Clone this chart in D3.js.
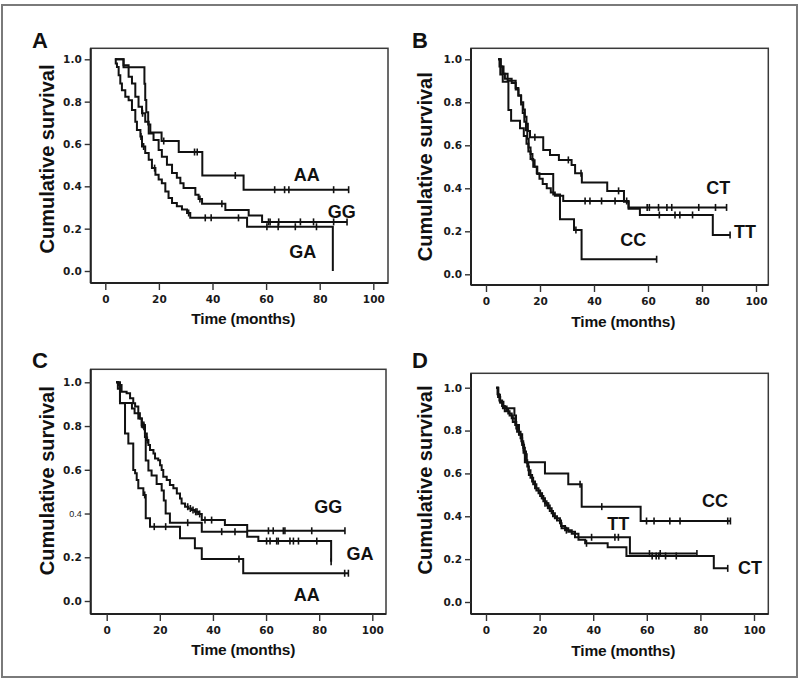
<!DOCTYPE html>
<html><head><meta charset="utf-8">
<script src="https://cdn.jsdelivr.net/npm/d3@7"></script>
<style>body{margin:0;background:#fff}</style>
</head><body><svg id="c" width="800" height="690"></svg>
<script>
// ---------- axis ticks ----------
const xTicks = [0, 20, 40, 60, 80, 100];
const yTicks = [0.0, 0.2, 0.4, 0.6, 0.8, 1.0];

// ---------- Panel A ----------
const A_labels = ["AA", "GG", "GA"];
const A_AA = [[3.7,1.0],[6.8,0.962],[14.6,0.885],[14.9,0.808],[15.3,0.75],[16,0.692],[16.8,0.654],[21,0.614],[27.4,0.562],[36.2,0.451],[51.6,0.384]];
const A_AA_end = 90.8;
const A_AA_cens = [21.8,33.3,34.3,48.5,63.2,66.9,68.5,85.2,90.8];
const A_GG = [[3.7,1.0],[6.8,0.972],[8.7,0.917],[9.95,0.886],[11.2,0.823],[12.4,0.776],[13.7,0.745],[14.9,0.705],[16.2,0.65],[18.0,0.619],[19.9,0.572],[21.1,0.54],[23.0,0.502],[24.9,0.463],[26.7,0.44],[28.0,0.415],[29.2,0.392],[33.6,0.36],[34.8,0.34],[36.1,0.318],[44.8,0.288],[53.5,0.262],[58.5,0.232]];
const A_GG_end = 90.2;
const A_GG_cens = [13.9,35.3,43.5,60.9,61.5,64.7,72.8,77.7,85.2,90.2];
const A_GA = [[3.5,1.0],[3.9,0.98],[4.35,0.964],[4.98,0.925],[5.6,0.886],[6.2,0.854],[7.46,0.823],[8.7,0.807],[9.95,0.76],[11.2,0.705],[11.8,0.666],[13.1,0.635],[13.7,0.588],[14.9,0.557],[16.2,0.525],[17.4,0.486],[18.7,0.455],[19.9,0.432],[21.1,0.415],[22.4,0.376],[23.6,0.345],[24.9,0.321],[26.7,0.306],[28.6,0.29],[30.5,0.274],[31.7,0.251],[52.9,0.209],[84.9,0.0]];
const A_GA_end = 84.9;
const A_GA_cens = [13.3,14.3,18.4,31.1,37.3,39.5,49.7,60.3,64.5,70.9,78.8];

// ---------- Panel B ----------
const B_labels = ["CT", "TT", "CC"];
const B_CT = [[4.5,1.0],[5.5,0.967],[6.5,0.933],[8,0.9],[11,0.867],[12,0.833],[13,0.8],[13.8,0.767],[14.4,0.733],[15,0.7],[15.5,0.667],[16.3,0.637],[21.2,0.578],[23.7,0.555],[27,0.532],[31.7,0.508],[33,0.47],[35.5,0.427],[44.9,0.388],[51.1,0.338],[52.8,0.311]];
const B_CT_end = 89.1;
const B_CT_cens = [18.1,30.5,35.2,49.1,59.7,60.5,63.9,67,68.8,78.8,85,89.1];
const B_TT = [[4.5,1.0],[5,0.967],[6,0.933],[7,0.91],[9.5,0.89],[11,0.86],[12,0.83],[13,0.79],[13.6,0.75],[14.2,0.71],[14.8,0.67],[15.3,0.63],[15.8,0.59],[16.5,0.56],[17.2,0.53],[18,0.5],[18.8,0.47],[19.8,0.445],[21,0.42],[22.5,0.40],[24,0.38],[25.5,0.365],[28.6,0.341],[52.8,0.305],[57,0.276],[84,0.183]];
const B_TT_end = 90.4;
const B_TT_cens = [36.7,38.5,42.8,47.8,52.1,64.2,70,71.8,76.5,90.4];
const B_CC = [[4.5,1.0],[5.3,0.929],[6.2,0.896],[8.3,0.764],[9.3,0.714],[12.6,0.679],[14,0.643],[15,0.607],[15.7,0.571],[16.5,0.536],[17.5,0.5],[19,0.467],[24.9,0.371],[27.4,0.256],[32.6,0.206],[35.4,0.07]];
const B_CC_end = 63.2;
const B_CC_cens = [33.3,63.2];

// ---------- Panel C ----------
const C_labels = ["GG", "GA", "AA"];
const C_GG = [[3.5,1.0],[4.4,0.988],[5.6,0.957],[7.5,0.95],[8.8,0.927],[10,0.904],[10.7,0.889],[11.9,0.858],[12.5,0.835],[13.2,0.805],[14.4,0.766],[15.1,0.736],[15.7,0.713],[16.3,0.69],[17.6,0.675],[18.2,0.652],[19.4,0.644],[20.1,0.621],[20.7,0.599],[21.3,0.568],[22.6,0.553],[23.8,0.53],[25.1,0.515],[26.4,0.492],[27.6,0.469],[28.2,0.446],[29.5,0.431],[30.7,0.423],[32,0.416],[33.2,0.408],[34.5,0.398],[35.8,0.37],[44.5,0.347],[52.9,0.321]];
const C_GG_end = 89.7;
const C_GG_cens = [13.5,14,15.3,30.5,31.5,32.5,33.5,34,35,37,39.5,60.9,62.7,66.5,67.1,77.2,89.7];
const C_GA = [[3.5,1.0],[4.2,0.97],[5,0.905],[9.5,0.88],[10.5,0.858],[11.9,0.835],[13.2,0.797],[14.4,0.75],[14.7,0.643],[15.7,0.597],[16.9,0.574],[18.8,0.535],[20.7,0.505],[21.5,0.46],[22.2,0.4],[23.8,0.358],[35.8,0.317],[52.9,0.294],[57.1,0.274],[84.5,0.18]];
const C_GA_end = 84.5;
const C_GA_cens = [14,30.5,43.3,48.3,60.2,61.5,64,64.6,69,70.3,72.2,79.1,84.5];
const C_AA = [[3.5,1.0],[5,0.904],[6.9,0.766],[8.15,0.72],[10,0.599],[10.7,0.584],[11.3,0.553],[11.9,0.515],[13.8,0.485],[14.7,0.378],[16.3,0.34],[27.6,0.287],[33.2,0.241],[35.8,0.192],[51.4,0.127]];
const C_AA_end = 91;
const C_AA_cens = [14.3,17.9,22.2,49.8,89.6,91];

// ---------- Panel D ----------
const D_labels = ["CC", "TT", "CT"];
const D_CC = [[3.8,1.0],[4.5,0.957],[5.3,0.93],[6.3,0.904],[10.6,0.87],[11.2,0.826],[12.3,0.783],[13.5,0.74],[14,0.696],[14.5,0.652],[22,0.6],[30.7,0.549],[35.7,0.445],[57.7,0.378]];
const D_CC_end = 91.2;
const D_CC_cens = [35.1,43.2,59.9,62.7,68.6,72.4,90.2,91.2];
const D_TT = [[3.8,1.0],[4.6,0.966],[5.2,0.935],[6.5,0.912],[7.7,0.896],[8.3,0.88],[9.6,0.857],[10.9,0.826],[11.6,0.795],[12.9,0.764],[13.5,0.733],[14.2,0.702],[14.8,0.662],[15.4,0.632],[16,0.593],[17.2,0.562],[18.3,0.531],[19.6,0.507],[20.8,0.484],[22,0.461],[23.3,0.437],[24.5,0.414],[25.7,0.391],[27.6,0.367],[28.2,0.344],[30.7,0.328],[33.2,0.302],[53.7,0.226]];
const D_TT_end = 78.7;
const D_TT_cens = [12.4,22,39.4,48.1,49.4,61,65,78.7];
const D_CT = [[3.8,1.0],[4.3,0.97],[5,0.94],[6,0.915],[7,0.89],[8.8,0.87],[10,0.84],[11.3,0.81],[12.3,0.78],[13.2,0.75],[13.9,0.72],[14.5,0.69],[15.2,0.65],[15.8,0.615],[16.6,0.58],[17.6,0.55],[18.8,0.52],[20.2,0.495],[21.4,0.47],[22.6,0.45],[23.8,0.425],[25,0.40],[26.5,0.38],[28,0.355],[29.5,0.335],[32,0.318],[34.5,0.29],[37,0.274],[45.4,0.256],[52.4,0.215],[85,0.157]];
const D_CT_end = 90.2;
const D_CT_cens = [14,15,21,23,30,37.5,62,63.5,64.5,67,71,90.2];

// ---------- layout ----------
const panels = [
  {letter:"A", lp:[32,48], box:[90.7,48.3,388,283], xr:[105.3,373.3], yr:[271,59.3], yt:[46.7,159], xt:[243.3,318.3],
   series:[[A_AA,A_AA_end,A_AA_cens],[A_GG,A_GG_end,A_GG_cens],[A_GA,A_GA_end,A_GA_cens]],
   labels:A_labels, lpos:[[306.7,175],[341.7,211.7],[302.7,251.7]]},
  {letter:"B", lp:[412,48], box:[471,48.3,768.3,285], xr:[486,756], yr:[274.3,59.3], yt:[425,166.7], xt:[623.3,321.7],
   series:[[B_CT,B_CT_end,B_CT_cens],[B_TT,B_TT_end,B_TT_cens],[B_CC,B_CC_end,B_CC_cens]],
   labels:B_labels, lpos:[[718.3,188.3],[745,232.3],[633.3,240]]},
  {letter:"C", lp:[32,368], box:[90.7,369.3,386,614], xr:[106.7,372.3], yr:[601,382.3], yt:[46.7,480.7], xt:[243.3,649.3],
   series:[[C_GG,C_GG_end,C_GG_cens],[C_GA,C_GA_end,C_GA_cens],[C_AA,C_AA_end,C_AA_cens]],
   labels:C_labels, lpos:[[328.3,506.7],[360,554.3],[306.7,595]], oddTick:0.4},
  {letter:"D", lp:[412,368], box:[471,373.3,768.3,614], xr:[486,754], yr:[602,387.7], yt:[425,480], xt:[623.3,650],
   series:[[D_CC,D_CC_end,D_CC_cens],[D_TT,D_TT_end,D_TT_cens],[D_CT,D_CT_end,D_CT_cens]],
   labels:D_labels, lpos:[[715,500.7],[618.3,524.3],[750,567.7]]}
];

const svg = d3.select("#c");
svg.append("rect").attr("width",800).attr("height",690).attr("fill","#fff");
svg.append("rect").attr("x",2).attr("y",5).attr("width",795).attr("height",672)
   .attr("fill","none").attr("stroke","#7a7a7a").attr("stroke-width",2);

const survAt = (steps, t) => { let s = steps[0][1]; for (const p of steps) if (p[0] <= t) s = p[1]; return s; };

panels.forEach(p => {
  const g = svg.append("g");
  const x = d3.scaleLinear().domain([0,100]).range(p.xr);
  const y = d3.scaleLinear().domain([0,1]).range(p.yr);
  const [bx0,by0,bx1,by1] = p.box;

  // box
  g.append("rect").attr("x",bx0).attr("y",by0).attr("width",bx1-bx0).attr("height",by1-by0)
    .attr("fill","none").attr("stroke","#3a3a3a").attr("stroke-width",1.5);
  g.append("line").attr("x1",bx0).attr("x2",bx1).attr("y1",by1).attr("y2",by1)
    .attr("stroke","#222").attr("stroke-width",2.2);
  g.append("line").attr("x1",bx0).attr("x2",bx0).attr("y1",by0).attr("y2",by1)
    .attr("stroke","#222").attr("stroke-width",2);

  // axes
  const ya = g.append("g").attr("transform",`translate(${bx0},0)`)
    .call(d3.axisLeft(y).tickValues(yTicks).tickFormat(d3.format(".1f")).tickSize(6).tickPadding(3));
  const xa = g.append("g").attr("transform",`translate(0,${by1})`)
    .call(d3.axisBottom(x).tickValues(xTicks).tickFormat(d3.format("d")).tickSize(7).tickPadding(6));
  [ya,xa].forEach(a => {
    a.select(".domain").remove();
    a.selectAll("line").attr("stroke","#333").attr("stroke-width",1.4);
    a.selectAll("text").attr("font-family","'DejaVu Sans', Verdana, sans-serif")
      .attr("font-weight","bold").attr("font-size",10.5).attr("fill","#1a1a1a");
  });
  if (p.oddTick !== undefined) {
    ya.selectAll(".tick").filter(d => Math.abs(d - p.oddTick) < 1e-6).select("text")
      .attr("font-family","'Liberation Sans', Arial, sans-serif").attr("font-weight","normal").attr("font-size",9);
  }

  // titles
  g.append("text").attr("x",p.xt[0]).attr("y",p.xt[1]).attr("text-anchor","middle").attr("dominant-baseline","central")
    .attr("font-family","'Liberation Sans', Arial, sans-serif").attr("font-weight","bold").attr("font-size",15.5)
    .attr("letter-spacing",-0.2).attr("fill","#111").text("Time (months)");
  g.append("text").attr("transform",`translate(${p.yt[0]},${p.yt[1]}) rotate(-90)`).attr("text-anchor","middle")
    .attr("dominant-baseline","central")
    .attr("font-family","'Liberation Sans', Arial, sans-serif").attr("font-weight","bold").attr("font-size",20)
    .attr("fill","#111").text("Cumulative survival");
  g.append("text").attr("x",p.lp[0]).attr("y",p.lp[1])
    .attr("font-family","'Liberation Sans', Arial, sans-serif").attr("font-weight","bold").attr("font-size",22)
    .attr("fill","#111").text(p.letter);

  // curves
  const line = d3.line().x(d => x(d[0])).y(d => y(d[1])).curve(d3.curveStepAfter);
  p.series.forEach(([steps, end, cens]) => {
    const pts = steps.concat([[end, steps[steps.length-1][1]]]);
    g.append("path").attr("d", line(pts)).attr("fill","none").attr("stroke","#111").attr("stroke-width",2);
    g.selectAll(null).data(cens).enter().append("line")
      .attr("x1", d => x(d)).attr("x2", d => x(d))
      .attr("y1", d => y(survAt(steps, d)) - 3.5).attr("y2", d => y(survAt(steps, d)) + 3.5)
      .attr("stroke","#111").attr("stroke-width",1.6);
  });

  // group labels
  p.labels.forEach((lab, i) => {
    g.append("text").attr("x",p.lpos[i][0]).attr("y",p.lpos[i][1]).attr("text-anchor","middle")
      .attr("dominant-baseline","central")
      .attr("font-family","'Liberation Sans', Arial, sans-serif").attr("font-weight","bold").attr("font-size",18)
      .attr("fill","#111").text(lab);
  });
});
</script></body></html>
